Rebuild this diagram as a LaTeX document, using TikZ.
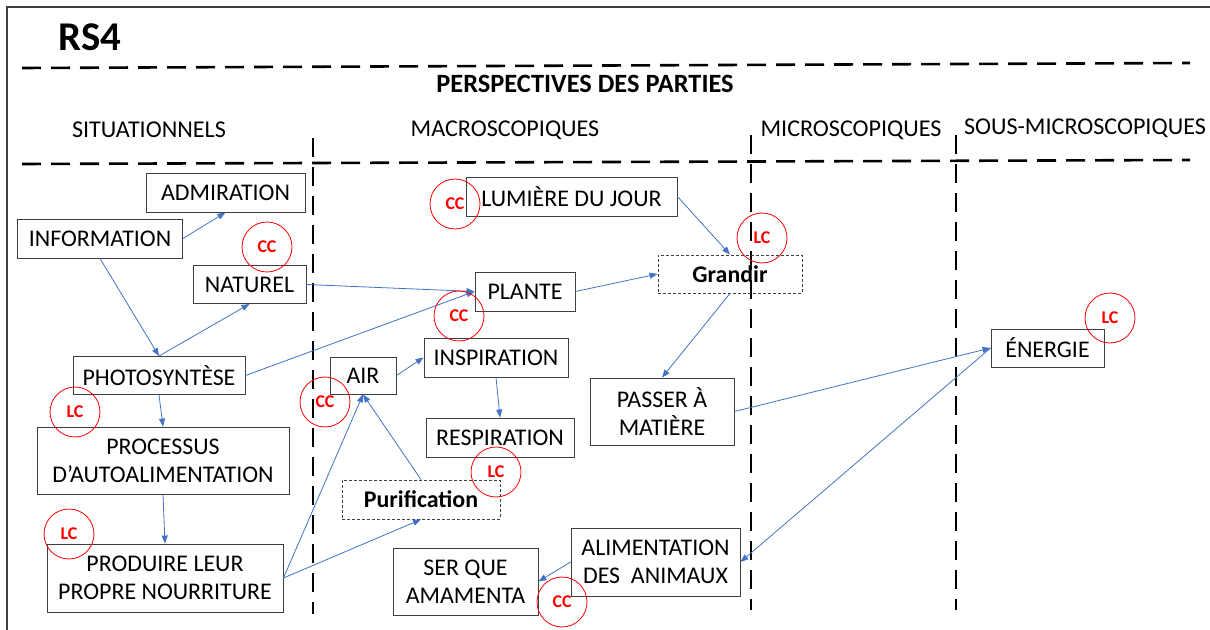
\documentclass[tikz,border=0pt]{standalone}
\usepackage{fontspec}
\setmainfont{Carlito}
\usetikzlibrary{arrows.meta}
\definecolor{flux}{HTML}{4472C4}
\definecolor{gris}{HTML}{3F3F3F}
\tikzset{
  boite/.style={draw=gris, line width=0.9bp, inner sep=0pt, align=center,
    font=\fontsize{24}{28}\selectfont},
  boitept/.style={boite, dash pattern=on 3bp off 2bp,
    font=\fontsize{24}{28}\selectfont\bfseries},
  taille/.style 2 args={minimum width=#1bp, minimum height=#2bp},
  rond/.style={draw=red, circle, line width=0.8bp, minimum size=50bp,
    inner sep=0pt, text=red, font=\fontsize{18}{18}\selectfont\bfseries},
  fl/.style={draw=flux, line width=0.8bp, -{Triangle[length=8bp,width=6bp]}},
  sep/.style={line width=2.6bp, dash pattern=on 19bp off 10bp},
  entete/.style={font=\fontsize{24.2}{28}\selectfont}
}
\begin{document}
\begin{tikzpicture}[x=1bp,y=-1bp]
  \fill[white] (0,0) rectangle (1210,630);
  \useasboundingbox (0,0) rectangle (1210,630);
  \draw[gris, line width=1.2bp] (1210,7) -- (7,7) -- (7,630);

  \node[font=\fontsize{41}{41}\selectfont\bfseries] (rs) at (90,37) {RS4};
  \draw[sep] (22,68) -- (1190,63);
  \draw[sep] (22,164) -- (1190,160);
  \draw[sep] (313,138) -- (313,614);
  \draw[sep] (751,135) -- (751,610);
  \draw[sep] (956,135) -- (956,610);
  \node[font=\fontsize{26.5}{28}\selectfont\bfseries] (persp) at (585,84) {PERSPECTIVES DES PARTIES};
  \node[entete] (situ) at (149,130) {SITUATIONNELS};
  \node[entete] (macro) at (505,130) {MACROSCOPIQUES};
  \node[entete] (micro) at (851,130) {MICROSCOPIQUES};
  \node[entete] (sousmicro) at (1085,128) {SOUS-MICROSCOPIQUES};

  \node[boite, taille={159}{39}] (admir) at (225.5,192.5) {ADMIRATION};
  \node[boite, taille={165}{39}] (info) at (100,238.5) {INFORMATION};
  \node[boite, taille={113}{38}] (naturel) at (249.5,284.5) {NATUREL};
  \node[boite, taille={172}{38}] (photo) at (159,375.5) {PHOTOSYNTÈSE};
  \node[boite, taille={252}{67}] (processus) at (163,460.5) {PROCESSUS\\D’AUTOALIMENTATION};
  \node[boite, taille={236}{68}] (produire) at (165,578) {PRODUIRE LEUR\\PROPRE NOURRITURE};
  \node[boite, taille={211}{39}] (lumiere) at (571.5,196.5) {LUMIÈRE DU JOUR};
  \node[boite, taille={100}{39}] (plante) at (525,291.5) {PLANTE};
  \node[boitept, taille={144}{38}] (grandir) at (730,274) {Grandir};
  \node[boite, taille={66}{37}] (air) at (363,375.5) {AIR};
  \node[boite, taille={144}{39}] (inspi) at (496,357.5) {INSPIRATION};
  \node[boite, taille={148}{39}] (respi) at (500,437.5) {RESPIRATION};
  \node[boitept, taille={158}{39}] (purif) at (421,499.5) {Purification};
  \node[boite, taille={144}{67}] (passer) at (662,411.5) {PASSER À\\MATIÈRE};
  \node[boite, taille={113}{38}] (energie) at (1047.5,348) {ÉNERGIE};
  \node[boite, taille={145}{67}] (serque) at (465.5,581.5) {SER QUE\\AMAMENTA};
  \node[boite, taille={169}{68}] (alim) at (655.5,562) {ALIMENTATION\\DES~ ANIMAUX};

  \draw[fl] (info.east) -- (admir.south);
  \draw[fl] (info.south) -- (photo.north);
  \draw[fl] (photo.north) -- (naturel.south);
  \draw[fl] (naturel.east) -- (plante.west);
  \draw[fl] (photo.east) -- (plante.west);
  \draw[fl] (plante.east) -- (grandir.west);
  \draw[fl] (lumiere.east) -- (grandir.north);
  \draw[fl] (grandir.south) -- (passer.north);
  \draw[fl] (passer.east) -- (energie.west);
  \draw[fl] (energie.west) -- (alim.east);
  \draw[fl] (alim.west) -- (serque.east);
  \draw[fl] (photo.south) -- (processus.north);
  \draw[fl] (processus.south) -- (produire.north);
  \draw[fl] (produire.east) -- (air.south);
  \draw[fl] (produire.east) -- (purif.south);
  \draw[fl] (purif.north) -- (air.south);
  \draw[fl] (air.east) -- (inspi.west);
  \draw[fl] (inspi.south) -- (respi.north);

  \node[rond] (cc-lumiere) at (455,204) {CC};
  \node[rond] (cc-naturel) at (267,247) {CC};
  \node[rond] (lc-grandir) at (762,238) {LC};
  \node[rond] (cc-plante) at (459,316) {CC};
  \node[rond] (lc-energie) at (1110,318) {LC};
  \node[rond] (lc-photo) at (75,412) {LC};
  \node[rond] (cc-air) at (325,402) {CC};
  \node[rond] (lc-respi) at (496,472) {LC};
  \node[rond] (lc-produire) at (69,534) {LC};
  \node[rond] (cc-serque) at (562,602) {CC};
\end{tikzpicture}
\end{document}
